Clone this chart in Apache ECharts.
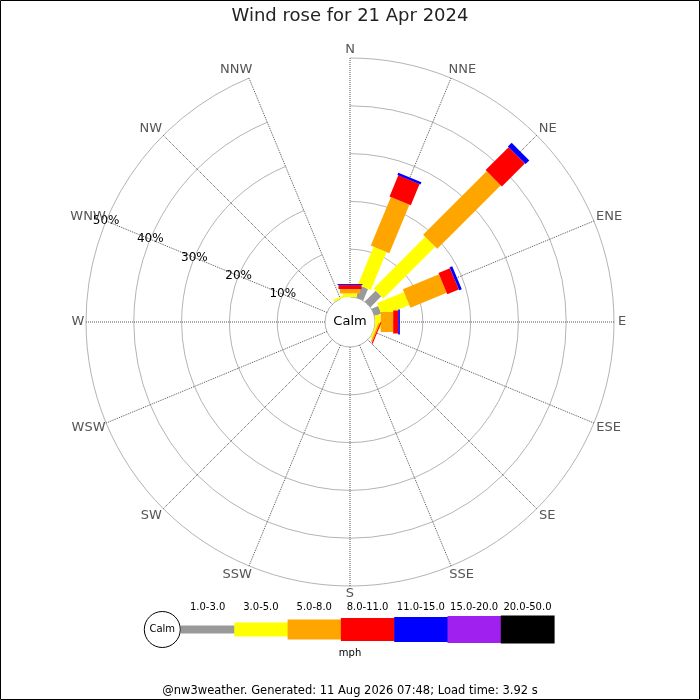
<!DOCTYPE html>
<html><head><meta charset="utf-8">
<script src="https://cdn.jsdelivr.net/npm/echarts@6/dist/echarts.min.js"></script>
<style>html,body{margin:0;padding:0;background:#fff}#c{width:700px;height:700px}</style>
</head><body><div id="c"></div>
<script>
// ---- data ----
const directions = ['N','NNE','NE','ENE','E','ESE','SE','SSE','S','SSW','SW','WSW','W','WNW','NW','NNW'];
const speedBins = ['1.0-3.0','3.0-5.0','5.0-8.0','8.0-11.0','11.0-15.0','15.0-20.0','20.0-50.0'];
const radiusTicks = [0,10,20,30,40,50];
// % frequency per direction, per speed bin (mph)
const freq_1_3   = [0,    2.6,  3.2, 1.5, 0,    0,    0,0,0,0,0,0,0,0,0,0];
const freq_3_5   = [0.75, 8.6, 15.3, 6.1, 1.2,  0.35, 0,0,0,0,0,0,0,0,0,0.4];
const freq_5_8   = [0.9, 11.0, 18.8, 8.2, 2.6,  0.3,  0,0,0,0,0,0,0,0,0,0];
const freq_8_11  = [0.85, 4.8,  6.8, 2.6, 1.05, 0.25, 0,0,0,0,0,0,0,0,0,0];
const freq_11_15 = [0.2,  0.5,  1.1, 0.6, 0.35, 0,    0,0,0,0,0,0,0,0,0,0];
const freq_15_20 = [0,0,0,0,0,0,0,0,0,0,0,0,0,0,0,0];
const freq_20_50 = [0,0,0,0,0,0,0,0,0,0,0,0,0,0,0,0];

// ---- styles ----
const binColors = ['#999999','#ffff00','#ffa500','#ff0000','#0000ff','#a020f0','#000000'];
const binWidths = [8,14,20,23,25,27,28];
const FONT = 'DejaVu Sans';
const CX = 350, CY = 322, R0 = 25, R1 = 264, LABEL_R = 272;

const binData = [freq_1_3,freq_3_5,freq_5_8,freq_8_11,freq_11_15,freq_15_20,freq_20_50];
const rMax = radiusTicks[radiusTicks.length-1];
const cum = directions.map(()=>0);
const series = binData.map((vals,b)=>{
  const data = [];
  vals.forEach((v,i)=>{ const lo = cum[i]; cum[i] += v; if (v > 0) data.push([cum[i], i, lo]); });
  const w = binWidths[b], color = binColors[b];
  return {
    type:'custom', name: speedBins[b], coordinateSystem:'polar', polarIndex:0,
    encode:{radius:0, angle:1}, z: 5,
    data,
    renderItem:(params, api)=>{
      const hi = api.value(0), idx = api.value(1), lo = api.value(2);
      const a = api.coord([lo, idx]), c = api.coord([hi, idx]);
      const o = api.coord([0, idx]), f = api.coord([rMax, idx]);
      let dx = f[0]-o[0], dy = f[1]-o[1]; const L = Math.hypot(dx,dy); dx/=L; dy/=L;
      const nx = -dy*w/2, ny = dx*w/2;
      return {type:'polygon', shape:{points:[[a[0]+nx,a[1]+ny],[c[0]+nx,c[1]+ny],[c[0]-nx,c[1]-ny],[a[0]-nx,a[1]-ny]]},
              style:{fill:color}};
    }
  };
});

// text measuring for direction labels
const mctx = document.createElement('canvas').getContext('2d');
mctx.font = '13px "'+FONT+'"';

const graphics = [
  {type:'rect', shape:{x:0.5,y:0.5,width:699,height:699}, style:{fill:'none',stroke:'#000',lineWidth:1}, z:100},
  {type:'text', x:CX, y:CY, style:{text:'Calm', font:'13px "'+FONT+'"', fill:'#000', textAlign:'center', textVerticalAlign:'middle'}, z:50},
];
// direction labels around the rose
directions.forEach((d,i)=>{
  const th = i*22.5*Math.PI/180, s = Math.sin(th), c = Math.cos(th);
  const halfW = mctx.measureText(d).width/2;
  const card = Math.abs(s) < 0.01 || Math.abs(c) < 0.01;
  const x = CX + LABEL_R*s + (card ? 0 : Math.sign(s)*0.6*halfW);
  const y = CY - LABEL_R*c - (card ? 0 : Math.sign(c)*1.5);
  graphics.push({type:'text', x, y, style:{text:d, font:'13px "'+FONT+'"', fill:'#555', textAlign:'center', textVerticalAlign:'middle'}, z:40});
});
// legend
const legX0 = 181, legW = 53.3, legCY = 629.5;
graphics.push(
  {type:'circle', shape:{cx:162.3, cy:legCY, r:18}, style:{fill:'#fff', stroke:'#000', lineWidth:1}, z:60},
  {type:'text', x:162.3, y:legCY, style:{text:'Calm', font:'10px "'+FONT+'"', fill:'#000', textAlign:'center', textVerticalAlign:'middle'}, z:61},
  {type:'text', x:350, y:653.5, style:{text:'mph', font:'10px "'+FONT+'"', fill:'#000', textAlign:'center', textVerticalAlign:'middle'}},
  {type:'text', x:350, y:691, style:{text:'@nw3weather. Generated: 11 Aug 2026 07:48; Load time: 3.92 s', font:'11.5px "'+FONT+'"', fill:'#000', textAlign:'center', textVerticalAlign:'middle'}}
);
speedBins.forEach((s,b)=>{
  const x = legX0 + b*legW, h = binWidths[b];
  graphics.push({type:'rect', shape:{x:x, y:legCY-h/2, width:legW+0.5, height:h}, style:{fill:binColors[b]}, z:55});
  graphics.push({type:'text', x:x+legW/2, y:607.5, style:{text:s, font:'10px "'+FONT+'"', fill:'#000', textAlign:'center', textVerticalAlign:'middle'}});
});

const chart = echarts.init(document.getElementById('c'), null, {renderer:'canvas'});
chart.setOption({
  animation:false,
  backgroundColor:'#fff',
  title:{text:'Wind rose for 21 Apr 2024', left:'center', top:2,
         textStyle:{fontFamily:FONT, fontSize:18, fontWeight:'normal', color:'#222'}},
  polar:[
    {center:[CX,CY], radius:[R0,R1]},
    {center:[CX,CY], radius:[R0,R1]}
  ],
  angleAxis:[
    {polarIndex:0, type:'category', data:directions, boundaryGap:false, startAngle:90, clockwise:true,
     axisLine:{show:false}, axisTick:{show:false}, axisLabel:{show:false},
     splitLine:{show:true, lineStyle:{color:'#555', width:1, type:'dotted'}}},
    {polarIndex:1, type:'value', min:0, max:360, startAngle:157.5, clockwise:true,
     axisLine:{show:false}, axisTick:{show:false}, axisLabel:{show:false}, splitLine:{show:false}}
  ],
  radiusAxis:[
    {polarIndex:0, type:'value', min:radiusTicks[0], max:rMax, interval:radiusTicks[1]-radiusTicks[0],
     axisLine:{show:false}, axisTick:{show:false}, axisLabel:{show:false},
     splitLine:{show:true, lineStyle:{color:'#b4b4b4', width:1}}},
    {polarIndex:1, type:'value', min:radiusTicks[0], max:rMax, interval:radiusTicks[1]-radiusTicks[0],
     axisLine:{show:false}, axisTick:{show:false}, splitLine:{show:false}, z:20,
     axisLabel:{show:true, margin:0, align:'center', verticalAlign:'middle', color:'#000', fontFamily:FONT, fontSize:12,
                formatter:(v)=> v===0 ? '' : v+'%'}}
  ],
  series,
  graphic:graphics
});
</script></body></html>
